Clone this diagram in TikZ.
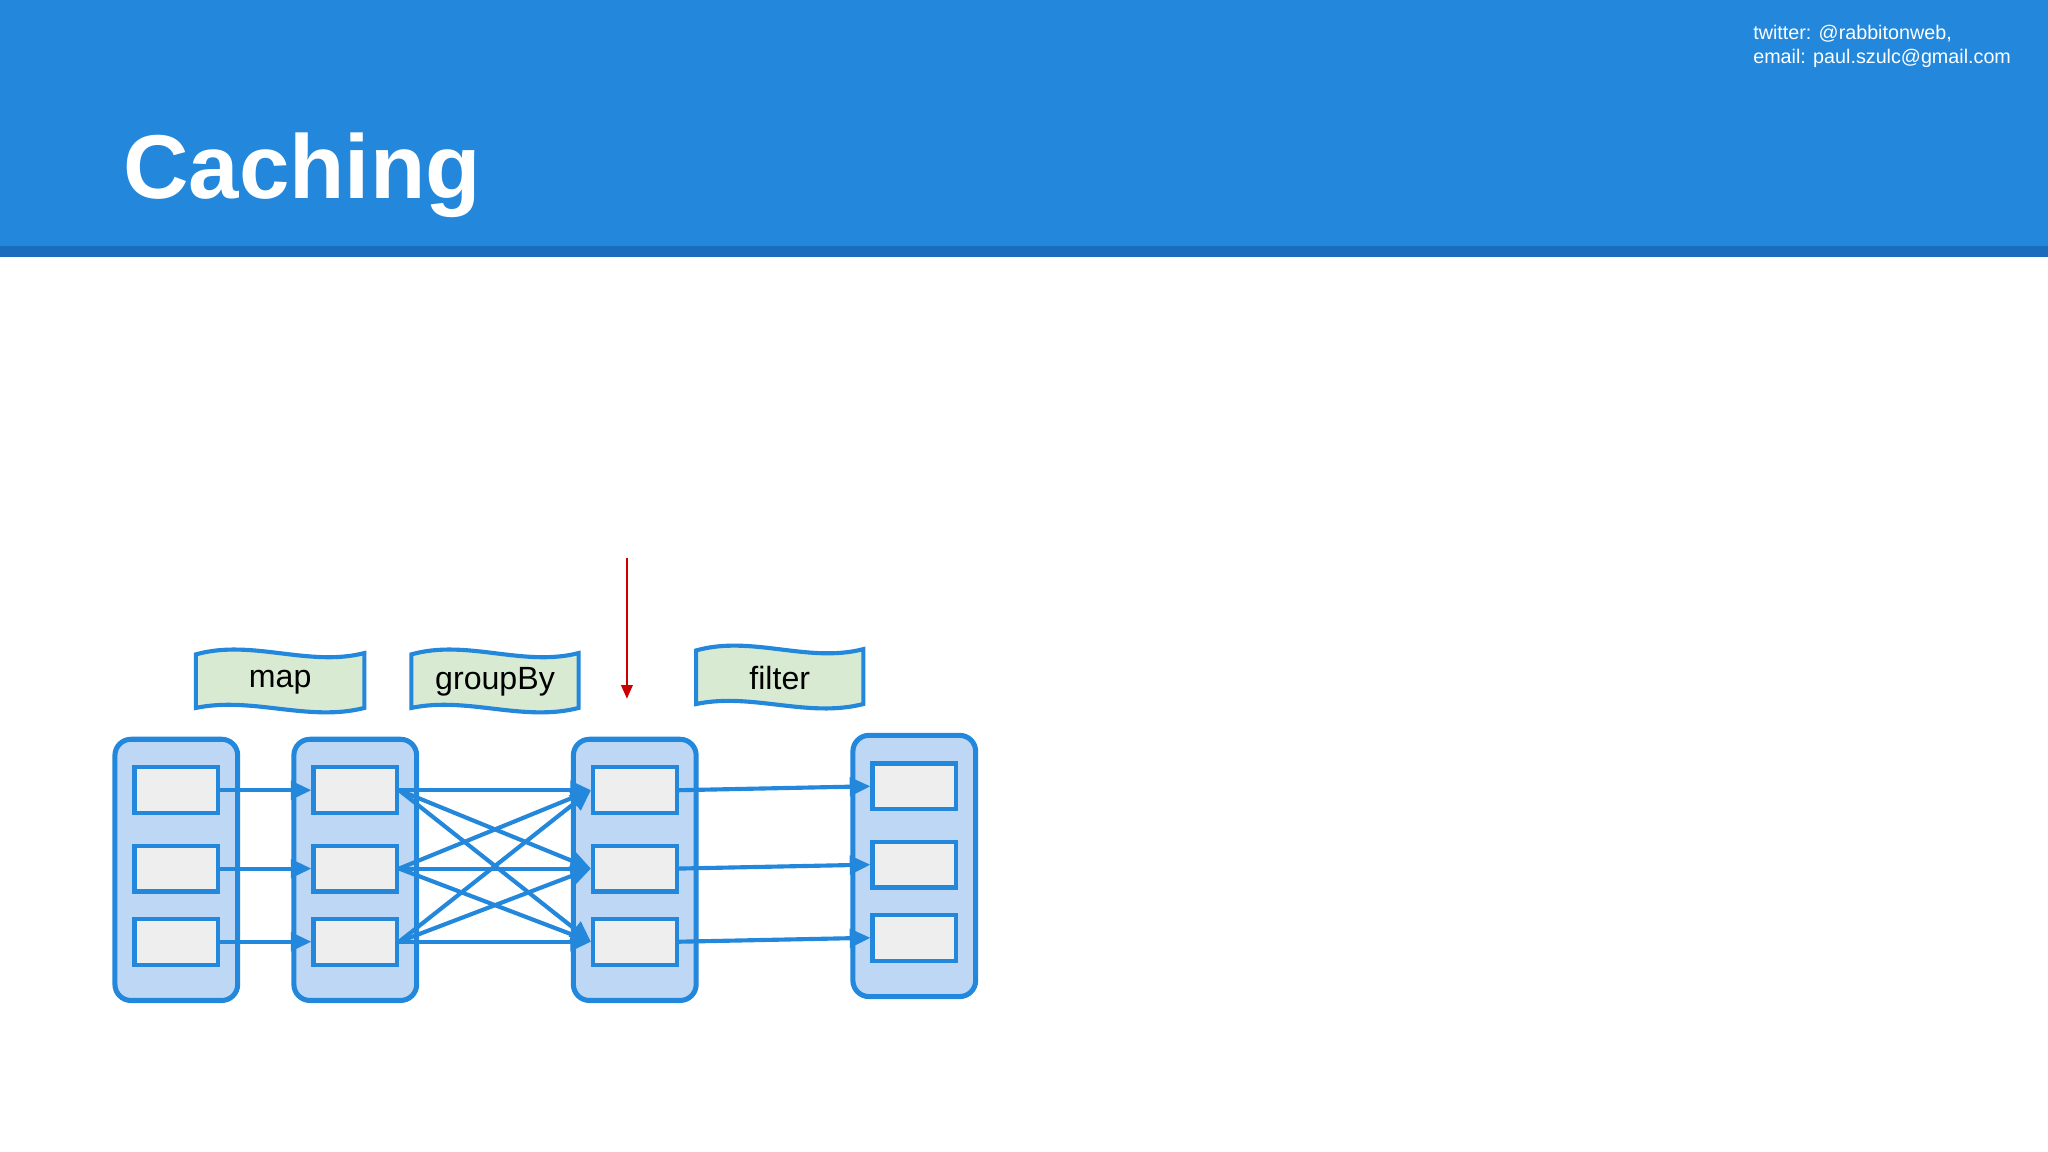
\documentclass[tikz,border=0pt]{standalone}
\usepackage{fontspec}
\setmainfont{Liberation Sans}
\usetikzlibrary{arrows.meta}
\definecolor{hdr}{HTML}{2387DB}
\definecolor{hdrdark}{HTML}{1B6CBF}
\definecolor{colfill}{HTML}{BDD7F5}
\definecolor{boxfill}{HTML}{EEEEEE}
\definecolor{tagfill}{HTML}{D9EAD3}
\definecolor{redarrow}{HTML}{CC0000}
\tikzset{
  colbox/.style={draw=hdr, line width=2.2pt, fill=colfill, rounded corners=7pt},
  cell/.style={draw=hdr, line width=1.8pt, fill=boxfill, minimum width=64*0.02cm, minimum height=35*0.02cm, inner sep=0pt},
  flow/.style={draw=hdr, line width=1.8pt, -{Triangle[length=9pt,width=8pt]}},
  tag/.style={draw=hdr, line width=1.8pt, fill=tagfill},
  taglabel/.style={font=\fontsize{14pt}{16pt}\selectfont}
}
\newcommand{\banner}[5]{% x0 y0 w h name
  \path[tag] (#1,#2+4) .. controls (#1+#3/3,#2-8) and (#1+2*#3/3,#2+14) .. (#1+#3,#2+3)
    -- (#1+#3,#2+#4-3) .. controls (#1+2*#3/3,#2+#4+8) and (#1+#3/3,#2+#4-12) .. (#1,#2+#4-3) -- cycle;
  \node[taglabel] (#5) at (#1+#3/2,#2+#4/2+1) {#5};
}
\begin{document}
\begin{tikzpicture}[x=0.02cm,y=-0.02cm]
\useasboundingbox (0,0) rectangle (1568,882);
\fill[white] (0,0) rectangle (1568,882);
\fill[hdr] (0,0) rectangle (1568,189);
\fill[hdrdark] (0,188) rectangle (1568,197);
\node[anchor=base west, text=white, font=\fontsize{39.5pt}{46pt}\selectfont\bfseries, inner sep=0pt] (title) at (94,152) {Caching};
\node[anchor=north west, text=white, font=\fontsize{8.6pt}{10.3pt}\selectfont, align=left, inner sep=0pt] (contact) at (1342,19) {twitter: @rabbitonweb,\\email: paul.szulc@gmail.com};

% columns
\path[colbox] (88,566) rectangle (182,766);
\path[colbox] (225,566) rectangle (319,766);
\path[colbox] (439,566) rectangle (533,766);
\path[colbox] (653,563) rectangle (747,763);
\foreach \c/\x/\dy in {a/135/0,b/272/0,c/486/0,d/700/-3}{
  \node[cell] (\c1) at (\x,605+\dy) {};
  \node[cell] (\c2) at (\x,665+\dy) {};
  \node[cell] (\c3) at (\x,721+\dy) {};
}
\foreach \i in {1,2,3}{
  \draw[flow] (a\i.east) -- (b\i.west);
  \draw[flow] (c\i.east) -- (d\i.west);
  \foreach \j in {1,2,3}{ \draw[flow] (b\i.east) -- (c\j.west); }
}
\banner{150}{497}{129}{48}{map}
\banner{315}{497}{128}{48}{groupBy}
\banner{533}{494}{128}{48}{filter}
\coordinate (rtop) at (480,427);
\coordinate (rbot) at (480,535);
\draw[redarrow, line width=1pt, -{Triangle[length=6pt,width=5pt]}] (rtop) -- (rbot);
\end{tikzpicture}
\end{document}
